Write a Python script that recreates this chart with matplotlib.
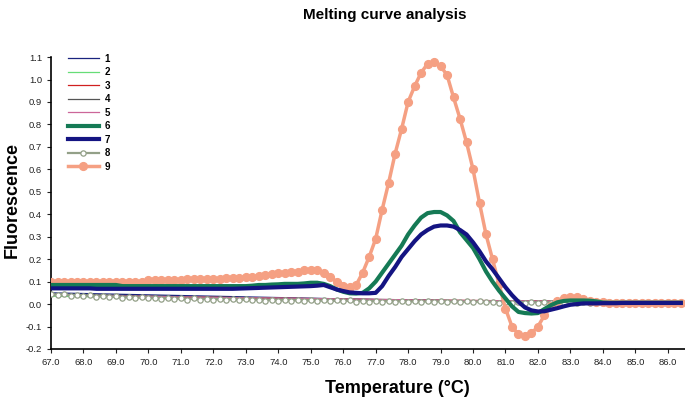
import matplotlib
matplotlib.use('Agg')
import numpy as np
import matplotlib.pyplot as plt

plt.rcParams['font.family'] = ['Liberation Sans', 'DejaVu Sans']

# curva 9 (salmón, con marcadores), paso 0.2 °C desde 67.0
y9 = [0.10, 0.10, 0.10, 0.10, 0.10, 0.10, 0.10, 0.10, 0.10, 0.10,
      0.10, 0.10, 0.10, 0.10, 0.10, 0.105, 0.105, 0.105, 0.105, 0.105,
      0.105, 0.11, 0.11, 0.11, 0.11, 0.11, 0.11, 0.115, 0.115, 0.115,
      0.12, 0.12, 0.125, 0.13, 0.135, 0.14, 0.14, 0.145, 0.145, 0.15,
      0.15, 0.15, 0.14, 0.12, 0.10, 0.08, 0.075, 0.085, 0.14, 0.21,
      0.29, 0.42, 0.54, 0.67, 0.78, 0.90, 0.97, 1.03, 1.07, 1.08,
      1.06, 1.02, 0.92, 0.825, 0.72, 0.60, 0.45, 0.31, 0.20, 0.09,
      -0.02, -0.10, -0.135, -0.14, -0.13, -0.10, -0.05, -0.01, 0.015, 0.025,
      0.03, 0.03, 0.022, 0.015, 0.01, 0.008, 0.005, 0.005, 0.005, 0.005,
      0.005, 0.005, 0.005, 0.005, 0.005, 0.005, 0.005, 0.005]

# curva 6 (verde gruesa)
y6 = [0.085, 0.085, 0.085, 0.085, 0.085, 0.085, 0.085, 0.085, 0.085, 0.085,
      0.085, 0.08, 0.08, 0.08, 0.08, 0.08, 0.08, 0.08, 0.08, 0.08,
      0.08, 0.08, 0.08, 0.08, 0.08, 0.08, 0.08, 0.08, 0.08, 0.08,
      0.08, 0.082, 0.085, 0.085, 0.087, 0.088, 0.09, 0.09, 0.09, 0.092,
      0.095, 0.095, 0.09, 0.08, 0.065, 0.055, 0.048, 0.047, 0.05, 0.07,
      0.10, 0.14, 0.18, 0.22, 0.26, 0.31, 0.35, 0.385, 0.405, 0.41,
      0.41, 0.395, 0.37, 0.32, 0.285, 0.25, 0.20, 0.145, 0.10, 0.06,
      0.025, -0.01, -0.035, -0.04, -0.042, -0.04, -0.022, -0.005, 0.008, 0.014,
      0.016, 0.016, 0.016, 0.015, 0.012, 0.007, 0.006, 0.006, 0.006, 0.006,
      0.006, 0.006, 0.006, 0.006, 0.006, 0.006, 0.006, 0.006]

# curva 7 (azul marino gruesa)
y7 = [0.07, 0.07, 0.07, 0.07, 0.07, 0.07, 0.07, 0.068, 0.068, 0.068,
      0.068, 0.068, 0.068, 0.068, 0.068, 0.068, 0.068, 0.068, 0.068, 0.068,
      0.068, 0.068, 0.068, 0.068, 0.068, 0.068, 0.068, 0.068, 0.068, 0.069,
      0.07, 0.071, 0.072, 0.073, 0.074, 0.075, 0.076, 0.077, 0.078, 0.079,
      0.08, 0.082, 0.085, 0.075, 0.065, 0.058, 0.052, 0.05, 0.048, 0.048,
      0.05, 0.08, 0.125, 0.165, 0.21, 0.245, 0.28, 0.31, 0.33, 0.345,
      0.35, 0.35, 0.345, 0.33, 0.31, 0.275, 0.235, 0.19, 0.155, 0.115,
      0.075, 0.04, 0.01, -0.015, -0.028, -0.033, -0.032, -0.025, -0.018, -0.01,
      -0.003, 0.0, 0.003, 0.003, 0.003, 0.004, 0.004, 0.004, 0.005, 0.005,
      0.005, 0.005, 0.005, 0.005, 0.005, 0.005, 0.005, 0.005]

# curva 8 (gris verdoso, marcadores huecos)
y8 = [0.045, 0.04, 0.045, 0.038, 0.042, 0.035, 0.04, 0.032, 0.036, 0.03,
      0.034, 0.028, 0.032, 0.026, 0.03, 0.025, 0.029, 0.023, 0.027, 0.022,
      0.026, 0.02, 0.025, 0.02, 0.024, 0.019, 0.023, 0.018, 0.022, 0.017,
      0.021, 0.016, 0.02, 0.015, 0.019, 0.014, 0.018, 0.014, 0.018, 0.013,
      0.017, 0.013, 0.017, 0.012, 0.016, 0.012, 0.016, 0.011, 0.015, 0.011,
      0.015, 0.01, 0.014, 0.01, 0.014, 0.01, 0.013, 0.009, 0.013, 0.009,
      0.013, 0.009, 0.012, 0.008, 0.012, 0.008, 0.012, 0.008, 0.011, 0.007,
      0.011, 0.007, 0.011, 0.007, 0.01, 0.006, 0.01, 0.006, 0.01, 0.006,
      0.009, 0.005, 0.009, 0.005, 0.009, 0.005, 0.008, 0.004, 0.008, 0.004,
      0.008, 0.004, 0.007, 0.004, 0.007, 0.003, 0.007, 0.003]

temp_fino = np.round(67.0 + 0.2 * np.arange(len(y9)), 1)

# curvas finas, paso 1 °C
temp_grueso = [67, 68, 69, 70, 71, 72, 73, 74, 75, 76, 77, 78, 79, 80, 81, 82, 83, 84, 85, 86.4]
y1 = [0.05, 0.047, 0.044, 0.041, 0.038, 0.035, 0.032, 0.029, 0.026, 0.023,
      0.02, 0.018, 0.016, 0.014, 0.013, 0.012, 0.011, 0.01, 0.01, 0.01]
y2 = [0.035, 0.033, 0.031, 0.029, 0.027, 0.025, 0.023, 0.021, 0.019, 0.017,
      0.016, 0.015, 0.014, 0.013, 0.012, 0.011, 0.01, 0.01, 0.009, 0.009]
y3 = [0.04, 0.038, 0.036, 0.034, 0.032, 0.03, 0.028, 0.026, 0.024, 0.022,
      0.02, 0.018, 0.017, 0.016, 0.015, 0.014, 0.013, 0.012, 0.012, 0.012]
y4 = [0.045, 0.042, 0.039, 0.036, 0.033, 0.031, 0.029, 0.027, 0.025, 0.023,
      0.021, 0.019, 0.017, 0.015, 0.014, 0.013, 0.012, 0.012, 0.011, 0.011]
y5 = [0.04, 0.038, 0.036, 0.034, 0.032, 0.03, 0.028, 0.027, 0.025, 0.023,
      0.021, 0.019, 0.017, 0.016, 0.015, 0.014, 0.013, 0.012, 0.012, 0.012]

xticks = np.arange(67, 87, 1)
yticks = np.round(np.arange(-0.2, 1.15, 0.1), 1)

fig = plt.figure(figsize=(6.85, 4.01), dpi=100)
ax = fig.add_axes([0.0745, 0.1297, 0.9255, 0.728])

ax.plot(temp_grueso, y1, color='#1a237e', lw=0.9, label='1')
ax.plot(temp_grueso, y2, color='#66dd77', lw=0.9, label='2')
ax.plot(temp_grueso, y3, color='#d02020', lw=0.9, label='3')
ax.plot(temp_grueso, y4, color='#555555', lw=0.9, label='4')
ax.plot(temp_grueso, y5, color='#cc6699', lw=0.9, label='5')
ax.plot(temp_fino, y8, color='#93a088', lw=1.6, marker='o', ms=3.8,
        mfc='white', mec='#93a088', mew=0.9, label='8', zorder=3)
ax.plot(temp_fino, y9, color='#f5a083', lw=2.5, marker='o', ms=5.6,
        mec='#f5a083', label='9', zorder=4)
ax.plot(temp_fino, y6, color='#157a55', lw=3.0, label='6', zorder=5)
ax.plot(temp_fino, y7, color='#141482', lw=3.0, label='7', zorder=5)

ax.set_xlim(67, 86.53)
ax.set_ylim(-0.2, 1.1)
ax.set_xticks(xticks)
ax.set_xticklabels(['%.1f' % t for t in xticks])
ax.set_yticks(yticks)
ax.set_yticklabels(['%.1f' % t for t in yticks])
ax.tick_params(labelsize=6.8, length=3, width=0.8, colors='#222222')
for s in ['top', 'right']:
    ax.spines[s].set_visible(False)
for s in ['left', 'bottom']:
    ax.spines[s].set_linewidth(1.2)

handles, labels = ax.get_legend_handles_labels()
orden = ['1', '2', '3', '4', '5', '6', '7', '8', '9']
h = [handles[labels.index(o)] for o in orden]
ax.legend(h, orden, loc='upper left', bbox_to_anchor=(0.02, 1.025), frameon=False,
          prop={'weight': 'bold', 'size': 7}, handlelength=3.2,
          labelspacing=0.36, handletextpad=0.6, borderaxespad=0)

fig.text(0.562, 0.962, 'Melting curve analysis', ha='center', va='center',
         fontsize=11, fontweight='bold')
fig.text(0.58, 0.032, 'Temperature (°C)', ha='center', va='center',
         fontsize=13, fontweight='bold')
fig.text(0.018, 0.50, 'Fluorescence', ha='center', va='center',
         fontsize=13, fontweight='bold', rotation=90)

plt.savefig('out.png', dpi=100)
